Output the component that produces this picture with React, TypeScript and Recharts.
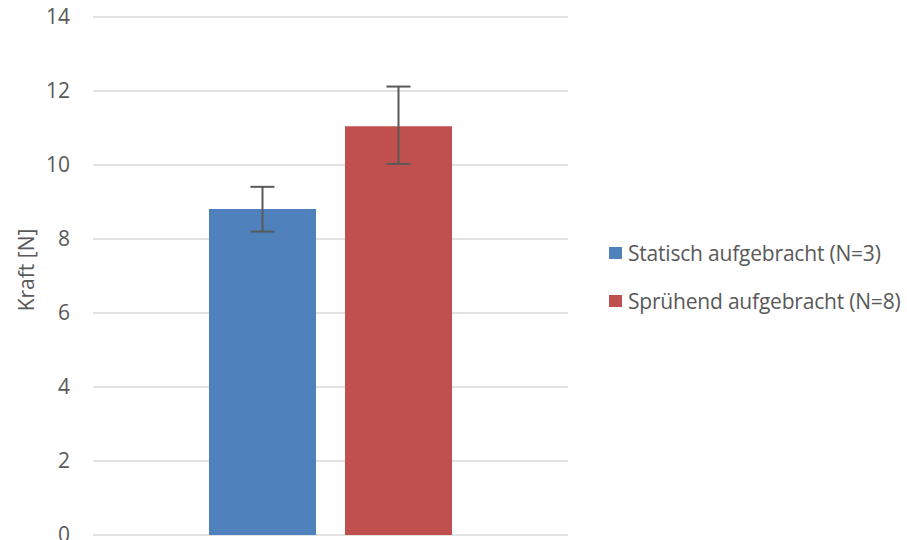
import React from 'react';
import { BarChart, Bar, XAxis, YAxis, CartesianGrid, ErrorBar } from 'recharts';

const categories = ['Kraft'];
const staticValues = [8.81];
const staticErrors: [number, number][] = [[0.61, 0.6]];
const sprayValues = [11.05];
const sprayErrors: [number, number][] = [[1.02, 1.07]];
const yTicks = [0, 2, 4, 6, 8, 10, 12, 14];
const seriesNames = ['Statisch aufgebracht (N=3)', 'Sprühend aufgebracht (N=8)'];
const seriesColors = ['#4F81BD', '#C0504D'];

const data = categories.map((c, i) => ({
  name: c,
  statisch: staticValues[i],
  statischErr: staticErrors[i],
  spruehend: sprayValues[i],
  spruehendErr: sprayErrors[i],
}));

const FONT = '"Open Sans", sans-serif';
const TEXT = '#595959';
const FS = 21;

export default function App() {
  return (
    <div style={{ position: 'absolute', left: 0, top: 0, width: 907, height: 540 }}>
      <BarChart
        width={907}
        height={540}
        data={data}
        margin={{ top: 17, right: 339, bottom: 5, left: 0 }}
        barSize={107}
        barGap={29}
      >
        <CartesianGrid vertical={false} stroke="#d9d9d9" strokeWidth={1.5} />
        <XAxis dataKey="name" hide />
        <YAxis
          width={93}
          domain={[0, 14]}
          ticks={yTicks}
          interval={0}
          axisLine={false}
          tickLine={false}
          tickSize={23}
          tickMargin={0}
          tick={{ fill: TEXT, fontSize: FS, fontFamily: FONT }}
          label={{
            value: 'Kraft [N]',
            angle: -90,
            position: 'insideLeft',
            dx: 22,
            dy: -6,
            style: { textAnchor: 'middle', fill: TEXT, fontSize: FS, fontFamily: FONT },
          }}
        />
        <Bar dataKey="statisch" name={seriesNames[0]} fill={seriesColors[0]} isAnimationActive={false}>
          <ErrorBar dataKey="statischErr" width={12} stroke="#595959" strokeWidth={2} direction="y" />
        </Bar>
        <Bar dataKey="spruehend" name={seriesNames[1]} fill={seriesColors[1]} isAnimationActive={false}>
          <ErrorBar dataKey="spruehendErr" width={12} stroke="#595959" strokeWidth={2} direction="y" />
        </Bar>
      </BarChart>
      <div style={{ position: 'absolute', left: 609, top: 238, fontFamily: FONT, fontSize: FS, color: TEXT }}>
        {seriesNames.map((n, i) => (
          <div key={n} style={{ display: 'flex', alignItems: 'center', height: 30, marginBottom: i === 0 ? 18 : 0 }}>
            <span style={{ display: 'inline-block', width: 13, height: 12, background: seriesColors[i], marginRight: 6 }} />
            <span style={{ whiteSpace: 'nowrap', letterSpacing: -0.2 }}>{n}</span>
          </div>
        ))}
      </div>
    </div>
  );
}
